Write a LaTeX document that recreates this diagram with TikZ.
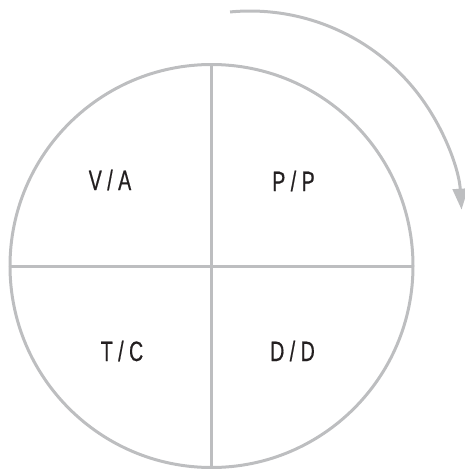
\documentclass[tikz,border=0pt]{standalone}
\usepackage{fontspec}
\setmainfont[FakeStretch=0.7,FakeBold=0.5]{Liberation Sans}
\usetikzlibrary{arrows.meta,positioning,calc}
\definecolor{cRing}{HTML}{BDBEC0}
\definecolor{cInk}{HTML}{231F20}
\tikzset{
  ring/.style={draw=cRing,line width=3pt},
  axis/.style={draw=cRing,line width=3pt},
  turn/.style={draw=cRing,line width=3pt,-{Triangle[length=21pt,width=15pt]}},
  lbl/.style={font=\fontsize{28}{30}\selectfont,text=cInk,inner sep=0pt,anchor=base},
}
\begin{document}
\begin{tikzpicture}[x=1pt,y=-1pt]
  \useasboundingbox (0,0) rectangle (464,469);
  % centre of the wheel
  \coordinate (c) at (211.5,266);
  \draw[ring] (c) circle (201.5);
  \coordinate (top) at (211.5,64.5);
  \coordinate (bot) at (211.5,467.5);
  \coordinate (lft) at (10,266);
  \coordinate (rgt) at (413,266);
  \draw[axis] (top) -- (bot);
  \draw[axis] (lft) -- (rgt);
  % quadrants
  \node[lbl] (va) at (110,190) {V / A};
  \node[lbl] (pp) at (293.5,191) {P / P};
  \node[lbl] (tc) at (122,361) {T / C};
  \node[lbl] (dd) at (292.5,361) {D / D};
  % direction of turn
  \coordinate (pivot) at (250,223);
  \coordinate (from) at ($(pivot)+(-95.4:212)$);
  \draw[turn] (from) arc[start angle=-95.4,end angle=-3.6,radius=212];
\end{tikzpicture}
\end{document}
